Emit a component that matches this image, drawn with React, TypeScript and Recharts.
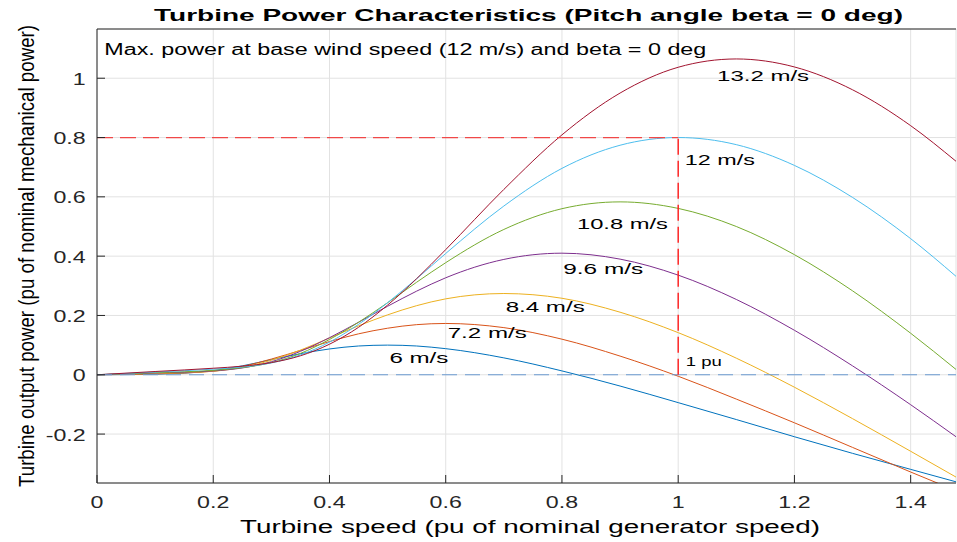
import React from 'react';
import { LineChart, Line, XAxis, YAxis, CartesianGrid, ReferenceLine, ReferenceDot } from 'recharts';

// Turbine speed (pu of nominal generator speed)
const speeds = [0, 0.1, 0.2, 0.25, 0.3, 0.35, 0.4, 0.45, 0.5, 0.55, 0.6, 0.7, 0.8, 0.9, 1.0, 1.1, 1.2, 1.3, 1.4, 1.478];

// Turbine output power (pu) per wind speed
const p6 = [0, 0.002, 0.014, 0.030, 0.051, 0.071, 0.087, 0.097, 0.100, 0.097, 0.088, 0.057, 0.013, -0.038, -0.094, -0.151, -0.209, -0.265, -0.319, -0.361];
const p72 = [0, 0.003, 0.012, 0.028, 0.053, 0.082, 0.112, 0.138, 0.157, 0.169, 0.173, 0.159, 0.120, 0.063, -0.005, -0.082, -0.162, -0.245, -0.328, -0.391];
const p84 = [0, 0.0045, 0.012, 0.025, 0.049, 0.083, 0.124, 0.165, 0.202, 0.233, 0.256, 0.274, 0.258, 0.211, 0.142, 0.056, -0.042, -0.148, -0.258, -0.345];
const p96 = [0, 0.006, 0.013, 0.023, 0.044, 0.079, 0.125, 0.177, 0.231, 0.282, 0.327, 0.389, 0.410, 0.390, 0.336, 0.254, 0.150, 0.030, -0.101, -0.209];
const p108 = [0, 0.007, 0.015, 0.024, 0.041, 0.072, 0.119, 0.177, 0.243, 0.312, 0.378, 0.490, 0.560, 0.583, 0.561, 0.500, 0.405, 0.283, 0.140, 0.018];
const p12 = [0, 0.009, 0.019, 0.026, 0.040, 0.067, 0.110, 0.170, 0.243, 0.324, 0.409, 0.569, 0.696, 0.774, 0.800, 0.776, 0.706, 0.598, 0.459, 0.332];
const p132 = [0, 0.011, 0.022, 0.029, 0.041, 0.064, 0.103, 0.160, 0.235, 0.324, 0.422, 0.625, 0.809, 0.950, 1.037, 1.065, 1.038, 0.961, 0.840, 0.720];

const xTicks = [0, 0.2, 0.4, 0.6, 0.8, 1, 1.2, 1.4];
const yTicks = [-0.2, 0, 0.2, 0.4, 0.6, 0.8, 1];

const series = [
  { key: 'v6', values: p6, color: '#0072BD' },
  { key: 'v72', values: p72, color: '#D95319' },
  { key: 'v84', values: p84, color: '#EDB120' },
  { key: 'v96', values: p96, color: '#7E2F8E' },
  { key: 'v108', values: p108, color: '#77AC30' },
  { key: 'v12', values: p12, color: '#4DBEEE' },
  { key: 'v132', values: p132, color: '#A2142F' },
];

const curveLabels = [
  { text: '13.2 m/s', x: 1.067, y: 0.989, len: 92, size: 15.5 },
  { text: '12 m/s', x: 1.0115, y: 0.708, len: 70, size: 15.5 },
  { text: '10.8 m/s', x: 0.8258, y: 0.492, len: 91, size: 15.5 },
  { text: '9.6 m/s', x: 0.8023, y: 0.3404, len: 80, size: 15.5 },
  { text: '8.4 m/s', x: 0.7032, y: 0.2123, len: 79, size: 15.5 },
  { text: '7.2 m/s', x: 0.6035, y: 0.1247, len: 79, size: 15.5 },
  { text: '6 m/s', x: 0.5031, y: 0.0404, len: 59, size: 15.5 },
  { text: '1 pu', x: 1.0132, y: 0.0286, len: 36, size: 13.5 },
];

const data = speeds.map((x, i) => {
  const row: Record<string, number> = { x };
  series.forEach((s) => {
    row[s.key] = s.values[i];
  });
  return row;
});

const FONT = '"Liberation Sans", Arial, Helvetica, sans-serif';
const fmt = (v: number) => String(Math.round(v * 10) / 10);

const XTick = (props: any) => {
  const { x, y, payload } = props;
  return (
    <g transform={`translate(${x},${y + 24.5})`}>
      <text transform="scale(1.45,1)" textAnchor="middle" fontSize={16} fontFamily={FONT} fill="#262626">
        {fmt(payload.value)}
      </text>
    </g>
  );
};

const YTick = (props: any) => {
  const { x, y, payload } = props;
  return (
    <g transform={`translate(${x - 11.3},${y + 6.5})`}>
      <text transform="scale(1.45,1)" textAnchor="end" fontSize={16} fontFamily={FONT} fill="#262626">
        {fmt(payload.value)}
      </text>
    </g>
  );
};

const makeLabelShape = (text: string, len: number, size: number) => (props: any) => {
  const { cx, cy } = props;
  return (
    <text x={cx} y={cy} fontSize={size} fontFamily={FONT} fill="#000" textLength={len} lengthAdjust="spacingAndGlyphs">
      {text}
    </text>
  );
};

const W = 957;
const H = 542;
const XDOM: [number, number] = [0, 1.478];
const YDOM: [number, number] = [-0.365, 1.166];

export default function App() {
  return (
    <div style={{ position: 'absolute', left: 0, top: 0, width: W, height: H, background: '#fff' }}>
      <LineChart width={W} height={H} data={data} margin={{ top: 28, right: 0, bottom: 58, left: 96 }}>
        <CartesianGrid stroke="#e2e2e2" strokeWidth={1} />
        <XAxis
          dataKey="x"
          type="number"
          domain={XDOM}
          ticks={xTicks}
          interval={0}
          height={1}
          allowDataOverflow
          tickSize={-8}
          tickMargin={8}
          tick={<XTick />}
          axisLine={{ stroke: '#262626' }}
          tickLine={{ stroke: '#262626' }}
        />
        <XAxis
          xAxisId="top"
          orientation="top"
          dataKey="x"
          type="number"
          domain={XDOM}
          ticks={xTicks}
          interval={0}
          height={1}
          allowDataOverflow
          tickSize={-7}
          tick={false}
          axisLine={{ stroke: '#262626' }}
          tickLine={{ stroke: '#262626' }}
        />
        <YAxis
          type="number"
          domain={YDOM}
          ticks={yTicks}
          interval={0}
          width={1}
          allowDataOverflow
          tickSize={-8}
          tickMargin={8}
          tick={<YTick />}
          axisLine={{ stroke: '#262626' }}
          tickLine={{ stroke: '#262626' }}
        />
        <YAxis
          yAxisId="right"
          orientation="right"
          type="number"
          domain={YDOM}
          ticks={yTicks}
          interval={0}
          width={1}
          allowDataOverflow
          tickSize={-4}
          tick={false}
          axisLine={false}
          tickLine={{ stroke: '#262626' }}
        />
        {series.map((s) => (
          <Line
            key={s.key}
            dataKey={s.key}
            type="monotone"
            stroke={s.color}
            strokeWidth={1}
            dot={false}
            activeDot={false}
            isAnimationActive={false}
          />
        ))}
        <ReferenceLine y={0} stroke="#6b9bd1" strokeWidth={1.2} strokeDasharray="15 8" />
        <ReferenceLine
          segment={[{ x: 0, y: 0.8 }, { x: 1, y: 0.8 }]}
          stroke="#f04848"
          strokeWidth={1.2}
          strokeDasharray="16 7"
        />
        <ReferenceLine
          segment={[{ x: 1, y: 0 }, { x: 1, y: 0.8 }]}
          stroke="#ff1a1a"
          strokeWidth={1.4}
          strokeDasharray="16 6"
        />
        {curveLabels.map((l) => (
          <ReferenceDot
            key={l.text}
            x={l.x}
            y={l.y}
            r={0}
            shape={makeLabelShape(l.text, l.len, l.size)}
          />
        ))}
      </LineChart>
      <svg width={W} height={H} style={{ position: 'absolute', left: 0, top: 0, pointerEvents: 'none' }}>
        <text x={154} y={21} fontSize={17} fontWeight="bold" fontFamily={FONT} fill="#000" textLength={749} lengthAdjust="spacingAndGlyphs">
          Turbine Power Characteristics (Pitch angle beta = 0 deg)
        </text>
        <text x={104.3} y={55} fontSize={16} fontFamily={FONT} fill="#000" textLength={602} lengthAdjust="spacingAndGlyphs">
          Max. power at base wind speed (12 m/s) and beta = 0 deg
        </text>
        <text x={240} y={533} fontSize={18} fontFamily={FONT} fill="#000" textLength={580} lengthAdjust="spacingAndGlyphs">
          Turbine speed (pu of nominal generator speed)
        </text>
        <g transform="translate(34,256) scale(1.33,1) rotate(-90)">
          <text x={0} y={0} textAnchor="middle" fontSize={16} fontFamily={FONT} fill="#000" textLength={462} lengthAdjust="spacingAndGlyphs">
            Turbine output power (pu of nominal mechanical power)
          </text>
        </g>
      </svg>
    </div>
  );
}
